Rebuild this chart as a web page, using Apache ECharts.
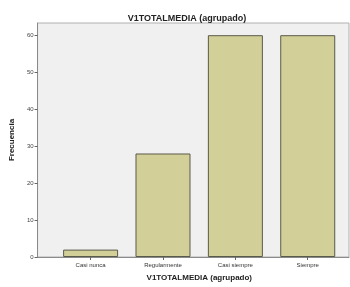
<!DOCTYPE html>
<html>
<head>
<meta charset="utf-8">
<script src="https://cdn.jsdelivr.net/npm/echarts@6/dist/echarts.min.js"></script>
<style>html,body{margin:0;padding:0;background:#fff}#c{width:350px;height:287px}</style>
</head>
<body>
<div id="c"></div>
<script>
const categories = ['Casi nunca', 'Regularmente', 'Casi siempre', 'Siempre'];
const values = [2, 28, 60, 60];
const yTicks = [0, 10, 20, 30, 40, 50, 60];
const title = 'V1TOTALMEDIA (agrupado)';
const xName = 'V1TOTALMEDIA (agrupado)';
const yName = 'Frecuencia';

const chart = echarts.init(document.getElementById('c'), null, {renderer: 'canvas'});
const catIdx = categories.map((c, i) => i);
chart.setOption({
  animation: false,
  backgroundColor: '#ffffff',
  title: {
    text: title, left: 182, top: 9, textAlign: 'center',
    textStyle: {fontFamily: 'Liberation Sans', fontSize: 9, fontWeight: 'bold', color: '#222'}
  },
  grid: {
    left: 35, right: 1, top: 23, bottom: 28,
    show: true, backgroundColor: '#f0f0f0', borderColor: '#b0b0b0', borderWidth: 1
  },
  xAxis: {
    type: 'value', min: -0.733, max: 3.57,
    name: xName, nameLocation: 'middle', nameGap: 17,
    nameTextStyle: {fontFamily: 'Liberation Sans', fontSize: 8, fontWeight: 'bold', color: '#222', padding: [0, 0, 0, 12]},
    axisLine: {show: true, onZero: false, lineStyle: {color: '#8a8a8a', width: 1}},
    axisTick: {show: true, length: 3, customValues: catIdx, lineStyle: {color: '#666'}},
    axisLabel: {
      customValues: catIdx, margin: 5,
      formatter: v => categories[Math.round(v)] || '',
      fontFamily: 'Liberation Sans', fontSize: 6, color: '#333'
    },
    splitLine: {show: false}
  },
  yAxis: {
    type: 'value', min: 0, max: 63.3,
    name: yName, nameLocation: 'middle', nameGap: 20,
    nameTextStyle: {fontFamily: 'Liberation Sans', fontSize: 8, fontWeight: 'bold', color: '#222'},
    axisLine: {show: true, onZero: false, lineStyle: {color: '#8a8a8a', width: 1}},
    axisTick: {show: true, length: 3, customValues: yTicks, lineStyle: {color: '#666'}},
    axisLabel: {customValues: yTicks, margin: 4, fontFamily: 'Liberation Sans', fontSize: 6, color: '#444'},
    splitLine: {show: false}
  },
  series: [{
    type: 'bar',
    barWidth: 55,
    data: values.map((v, i) => [i, v]),
    itemStyle: {color: '#d3cf98', borderColor: '#5a5a4a', borderWidth: 1}
  }]
});
</script>
</body>
</html>
